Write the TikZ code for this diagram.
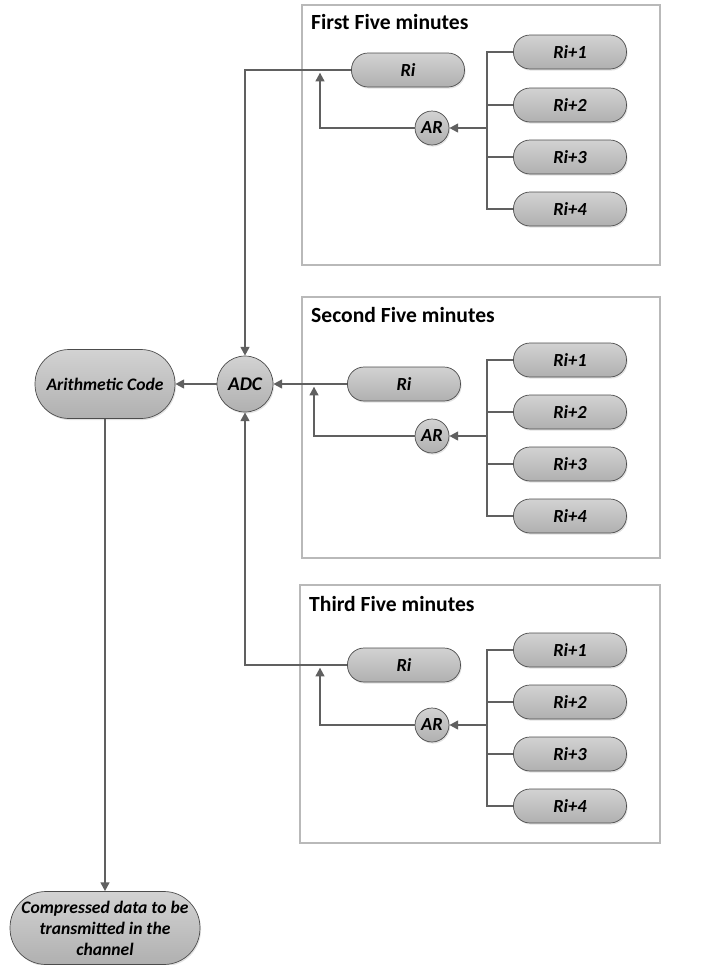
\documentclass[tikz,border=0pt]{standalone}
\usepackage{fontspec}
\setmainfont{Carlito}
\usetikzlibrary{arrows.meta,shadows}

\tikzset{
  pill/.style={draw=gray!60!black, rounded corners=0.33cm, top color=gray!35, bottom color=gray!62,
    minimum width=2.26cm, minimum height=0.68cm, inner sep=1pt, font=\bfseries\itshape\fontsize{10.5}{12}\selectfont,
    drop shadow={shadow xshift=0.6pt, shadow yshift=-0.9pt, fill=gray!45}},
  dot/.style={circle, draw=gray!60!black, top color=gray!35, bottom color=gray!62, inner sep=0pt,
    minimum size=0.68cm, font=\bfseries\itshape\fontsize{10.5}{12}\selectfont,
    drop shadow={shadow xshift=0.6pt, shadow yshift=-0.9pt, fill=gray!45}},
  frame/.style={draw=gray!55, line width=0.6pt},
  title/.style={anchor=west, font=\bfseries\fontsize{12.3}{14}\selectfont},
  wire/.style={draw=gray!75!black, line width=1.1pt},
  arr/.style={wire, -{Triangle[width=5pt,length=5pt]}}
}

\begin{document}
\begin{tikzpicture}[x=0.02cm, y=-0.02cm]
  \useasboundingbox (0,0) rectangle (709,965);

  % the three frames
  \draw[frame] (302,5) rectangle (660,265);
  \node[title] (t1) at (305,22) {First Five minutes};
  \draw[frame] (302,297) rectangle (660,558);
  \node[title] (t2) at (305,315) {Second Five minutes};
  \draw[frame] (300,585) rectangle (660,843);
  \node[title] (t3) at (303,604) {Third Five minutes};

  % left part
  \node[pill, minimum width=2.8cm, minimum height=1.38cm, rounded corners=0.68cm, font=\bfseries\itshape\normalsize] (arith) at (105,384) {Arithmetic Code};
  \node[dot, minimum size=1.12cm, font=\bfseries\itshape\fontsize{11}{13}\selectfont] (adc) at (245,384) {ADC};
  \node[pill, minimum width=3.8cm, minimum height=1.46cm, rounded corners=0.72cm, align=center, font=\bfseries\itshape\normalsize] (comp) at (105,928) {Compressed data to be\\transmitted in the\\channel};

  % first five minutes
  \node[pill] (ri1) at (408,70) {Ri};
  \node[dot] (ar1) at (432,128) {AR};
  \foreach \k/\y in {1/52,2/105,3/157,4/209}
    \node[pill] (a\k) at (570,\y) {Ri+\k};
  \coordinate (bus1) at (487,128);
  \coordinate (j1) at (320,70);

  % second five minutes
  \node[pill] (ri2) at (404,384) {Ri};
  \node[dot] (ar2) at (432,436) {AR};
  \foreach \k/\y in {1/360,2/412,3/464,4/516}
    \node[pill] (b\k) at (570,\y) {Ri+\k};
  \coordinate (bus2) at (487,436);
  \coordinate (j2) at (314,384);

  % third five minutes
  \node[pill] (ri3) at (404,665) {Ri};
  \node[dot] (ar3) at (432,725) {AR};
  \foreach \k/\y in {1/650,2/702,3/754,4/806}
    \node[pill] (c\k) at (570,\y) {Ri+\k};
  \coordinate (bus3) at (487,725);
  \coordinate (j3) at (320,665);

  % buses into AR
  \foreach \f in {a,b,c}{
    \draw[wire] (\f1.west) -| (\f1.west -| bus1) |- (\f4.west);
    \draw[wire] (\f2.west) -- (\f2.west -| bus1);
    \draw[wire] (\f3.west) -- (\f3.west -| bus1);
  }
  \draw[arr] (bus1) -- (ar1);
  \draw[arr] (bus2) -- (ar2);
  \draw[arr] (bus3) -- (ar3);

  % AR back to Ri line
  \draw[arr, shorten >=1.5pt] (ar1.west) -| (j1);
  \draw[arr, shorten >=1.5pt] (ar2.west) -| (j2);
  \draw[arr, shorten >=1.5pt] (ar3.west) -| (j3);

  % Ri into ADC
  \draw[arr] (ri1.west) -| (adc.north);
  \draw[arr] (ri2.west) -- (adc.east);
  \draw[arr] (ri3.west) -| (adc.south);

  \draw[arr] (adc) -- (arith);
  \draw[arr] (arith) -- (comp);
\end{tikzpicture}
\end{document}
